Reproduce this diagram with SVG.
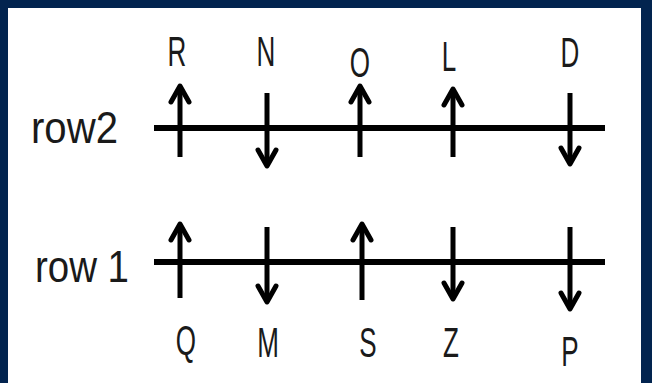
<svg xmlns="http://www.w3.org/2000/svg" width="652" height="383" viewBox="0 0 652 383">
<style>
.ln{stroke:#000;stroke-width:6;fill:none}
.ar{stroke:#000;stroke-width:5;fill:none}
.hd{stroke:#000;stroke-width:5;fill:none;stroke-linecap:round;stroke-linejoin:round}
.lb{font-family:"Liberation Sans",Arial,sans-serif;font-size:42px;fill:#1a1a1a;text-anchor:middle}
.rl{font-family:"Liberation Sans",Arial,sans-serif;font-size:45px;fill:#1a1a1a}
</style>
<defs>
<path id="up" class="hd" d="M-9,17 L0,1 L9,17"/>
<path id="dn" class="hd" d="M-9,-17 L0,-1 L9,-17"/>
</defs>
<rect x="0" y="0" width="652" height="383" fill="#02244f"/>
<rect x="8" y="8" width="633" height="375" fill="#ffffff"/>
<g id="rowlabels">
<text class="rl" x="31" y="143" textLength="87" lengthAdjust="spacingAndGlyphs">row2</text>
<text class="rl" x="35" y="282" textLength="94" lengthAdjust="spacingAndGlyphs">row 1</text>
</g>
<g id="connectors">
<line class="ln" x1="154" y1="128" x2="605" y2="128"/>
<line class="ln" x1="154" y1="262" x2="605" y2="262"/>
<line class="ar" x1="180" y1="157" x2="180" y2="86"/><use href="#up" x="180" y="85"/>
<line class="ar" x1="267" y1="93" x2="267" y2="166"/><use href="#dn" x="267" y="167"/>
<line class="ar" x1="360" y1="157" x2="360" y2="86"/><use href="#up" x="360" y="85"/>
<line class="ar" x1="453" y1="157" x2="453" y2="89"/><use href="#up" x="453" y="88"/>
<line class="ar" x1="570" y1="93" x2="570" y2="164"/><use href="#dn" x="570" y="165"/>
<line class="ar" x1="180" y1="298" x2="180" y2="224"/><use href="#up" x="180" y="223"/>
<line class="ar" x1="267" y1="227" x2="267" y2="302"/><use href="#dn" x="267" y="303"/>
<line class="ar" x1="362" y1="300" x2="362" y2="224"/><use href="#up" x="362" y="223"/>
<line class="ar" x1="453" y1="227" x2="453" y2="299"/><use href="#dn" x="453" y="300"/>
<line class="ar" x1="570" y1="227" x2="570" y2="309"/><use href="#dn" x="570" y="310"/>
</g>
<g id="R"><text class="lb" transform="translate(177,66) scale(0.62,1)">R</text></g>
<g id="N"><text class="lb" transform="translate(266,66) scale(0.62,1)">N</text></g>
<g id="O"><text class="lb" transform="translate(360,77) scale(0.62,1)">O</text></g>
<g id="L"><text class="lb" transform="translate(449,71) scale(0.62,1)">L</text></g>
<g id="D"><text class="lb" transform="translate(570,67) scale(0.62,1)">D</text></g>
<g id="Q"><text class="lb" transform="translate(186,355) scale(0.62,1)">Q</text></g>
<g id="M"><text class="lb" transform="translate(268,357) scale(0.62,1)">M</text></g>
<g id="S"><text class="lb" transform="translate(368,357) scale(0.62,1)">S</text></g>
<g id="Z"><text class="lb" transform="translate(451,357) scale(0.62,1)">Z</text></g>
<g id="P"><text class="lb" transform="translate(570,366) scale(0.62,1)">P</text></g>
</svg>
